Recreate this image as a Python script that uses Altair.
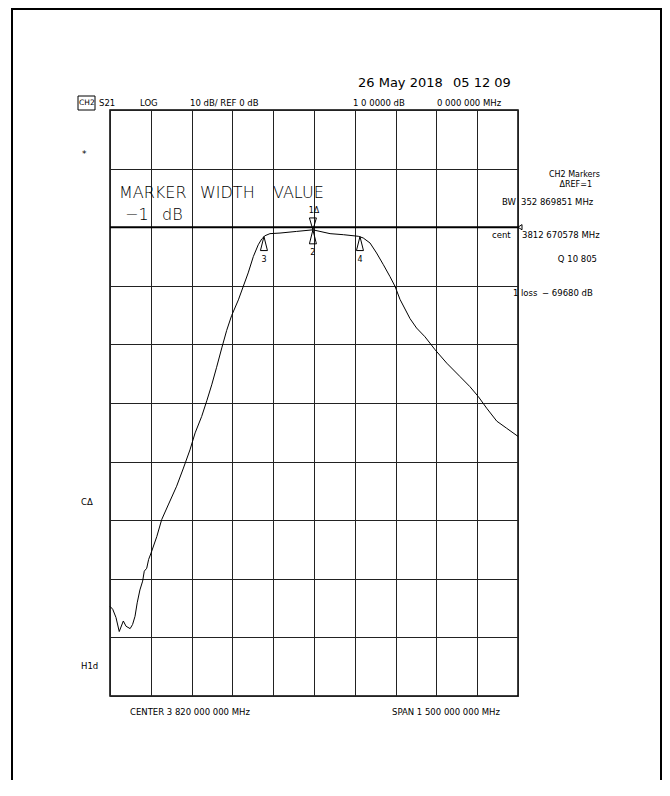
import altair as alt
import pandas as pd

freq_mhz = [3070, 3080, 3092, 3104, 3119, 3129, 3144, 3153, 3162, 3170, 3180, 3190,
            3196, 3205, 3212, 3221, 3242, 3260, 3284, 3315, 3340, 3364, 3383, 3407,
            3426, 3444, 3462, 3481, 3499, 3517, 3542, 3560, 3578, 3597, 3615, 3628,
            3640, 3658, 3695, 3756, 3816, 3842, 3879, 3928, 3983, 4001, 4026, 4050,
            4075, 4099, 4118, 4136, 4173, 4197, 4228, 4265, 4308, 4357, 4393, 4424,
            4455, 4492, 4528, 4570]
s21_db = [-64.7, -65.2, -66.6, -69.0, -67.2, -68.1, -68.5, -67.8, -66.4, -64.1, -61.9, -60.4,
          -58.7, -58.2, -56.7, -55.6, -52.8, -49.9, -47.4, -44.2, -41.1, -38.0, -35.1, -32.3,
          -29.6, -26.9, -23.9, -20.6, -17.6, -15.1, -12.4, -10.1, -7.8, -5.0, -3.0, -2.0,
          -1.45, -1.1, -1.0, -0.72, -0.45, -0.72, -1.1, -1.28, -1.55, -1.84, -2.7, -4.4,
          -6.4, -8.4, -10.1, -12.3, -15.6, -17.2, -18.7, -20.9, -23.2, -25.5, -27.2, -28.9,
          -30.9, -33.1, -34.3, -35.7]

marker_labels = ["1Δ", "2", "3", "4"]
marker_freq = [3816, 3816, 3636, 3989]
marker_db = [-0.45, -0.45, -1.6, -1.6]

grid_freq = list(range(3070, 4571, 150))   # 150 MHz / div
grid_db = list(range(-80, 21, 10))         # 10 dB / div
ref_level_db = [0]
ref_pointer_freq = [4570]

FONT = "DejaVu Sans"

trace_df = pd.DataFrame({"freq": freq_mhz, "db": s21_db})
mk_df = pd.DataFrame({"label": marker_labels, "freq": marker_freq, "db": marker_db})
one = pd.DataFrame({"k": [0]})

x_enc = alt.X("freq:Q",
              scale=alt.Scale(domain=[3070, 4570], nice=False, zero=False),
              axis=alt.Axis(values=grid_freq, labels=False, ticks=False, domain=False,
                            grid=True, title=None))
y_enc = alt.Y("db:Q",
              scale=alt.Scale(domain=[-80, 20], nice=False, zero=False),
              axis=alt.Axis(values=grid_db, labels=False, ticks=False, domain=False,
                            grid=True, title=None))

trace = alt.Chart(trace_df).mark_line(color="black", strokeWidth=1).encode(x=x_enc, y=y_enc)

ref_rule = alt.Chart(pd.DataFrame({"db": ref_level_db})).mark_rule(
    color="black", strokeWidth=2).encode(y=y_enc)

ref_ptr = alt.Chart(pd.DataFrame({"freq": ref_pointer_freq, "db": ref_level_db})).mark_point(
    shape="M0,0L2,-1.3L2,1.3Z", size=16, filled=False, color="black", strokeWidth=1, opacity=1
).encode(x=x_enc, y=y_enc)

up_tri = alt.Chart(mk_df).transform_filter("datum.label != '1Δ'").mark_point(
    shape="M0,0L-1,4L1,4Z", size=49, filled=False, color="black", strokeWidth=1, opacity=1
).encode(x=x_enc, y=y_enc)
down_tri = alt.Chart(mk_df).transform_filter("datum.label == '1Δ'").mark_point(
    shape="M0,0L-1,-3.4L1,-3.4Z", size=49, filled=False, color="black", strokeWidth=1, opacity=1
).encode(x=x_enc, y=y_enc)
up_lbl = alt.Chart(mk_df).transform_filter("datum.label != '1Δ'").mark_text(
    dy=23, font=FONT, fontSize=8, color="black", baseline="middle"
).encode(x=x_enc, y=y_enc, text="label:N")
down_lbl = alt.Chart(mk_df).transform_filter("datum.label == '1Δ'").mark_text(
    dy=-19, dx=1, font=FONT, fontSize=8, color="black", baseline="middle"
).encode(x=x_enc, y=y_enc, text="label:N")


def note(s, x, y, size=9, align="left", baseline="middle", weight="normal"):
    return alt.Chart(one).mark_text(
        align=align, baseline=baseline, font=FONT, fontSize=size,
        fontWeight=weight, color="black"
    ).encode(x=alt.value(x), y=alt.value(y), text=alt.value(s))


def box(x1, x2, y1, y2, w):
    return alt.Chart(one).mark_rect(filled=False, color="black", strokeWidth=w).encode(
        x=alt.value(x1), x2=alt.value(x2), y=alt.value(y1), y2=alt.value(y2))


# plot origin is at page (110,110); coordinates below are relative to it
notes = [
    box(-98, 551, -101, 720, 2),             # page frame
    box(-32, -15, -14, 0, 1),                # CH2 box
    note("26 May 2018", 248, -27, size=13),
    note("05 12 09", 343, -27, size=13),
    note("CH2", -31, -7, size=7.5),
    note("S21", -11, -7, size=8.5),
    note("LOG", 30, -7, size=8.5),
    note("10 dB/ REF 0 dB", 80, -7, size=8.5),
    note("1 0 0000 dB", 243, -7, size=8.5),
    note("0 000 000 MHz", 327, -7, size=8.5),
    note("CH2 Markers", 490, 65, size=8, align="right"),
    note("ΔREF=1", 482, 74.5, size=8, align="right"),
    note("BW", 406, 92, size=8.5, align="right"),
    note("352  869851 MHz", 411, 92, size=8.5),
    note("cent", 382, 125, size=8.5),
    note("3812 670578 MHz", 412, 125, size=8.5),
    note("Q  10 805", 487, 149, size=8.5, align="right"),
    note("1", 403, 183, size=8.5),
    note("loss", 411, 183, size=8.5),
    note("−  69680 dB", 432, 183, size=8.5),
    note("*", -28, 44, size=9),
    note("CΔ", -29, 392, size=8.5),
    note("H1d", -29, 556, size=8.5),
    note("CENTER 3 820 000 000 MHz", 20, 602, size=8.5),
    note("SPAN 1 500 000 000 MHz", 282, 602, size=8.5),
    note("MARKER", 9, 88, size=16, baseline="alphabetic", weight=300),
    note("WIDTH", 90, 88, size=16, baseline="alphabetic", weight=300),
    note("VALUE", 163, 88, size=16, baseline="alphabetic", weight=300),
    note("−1", 15, 110, size=16, baseline="alphabetic", weight=300),
    note("dB", 52, 110, size=16, baseline="alphabetic", weight=300),
]

chart = alt.layer(
    trace, ref_rule, ref_ptr, up_tri, down_tri, up_lbl, down_lbl, *notes
).properties(
    width=408, height=586,
    autosize=alt.AutoSizeParams(type="none"),
    padding={"left": 102, "top": 102, "right": 144, "bottom": 84},
    background="white",
).configure_view(
    stroke="black", strokeWidth=1.5
).configure_axis(
    gridColor="#222222", gridWidth=1, gridOpacity=1
)

chart.save("out.html", embed_options={"renderer": "svg", "actions": False})
